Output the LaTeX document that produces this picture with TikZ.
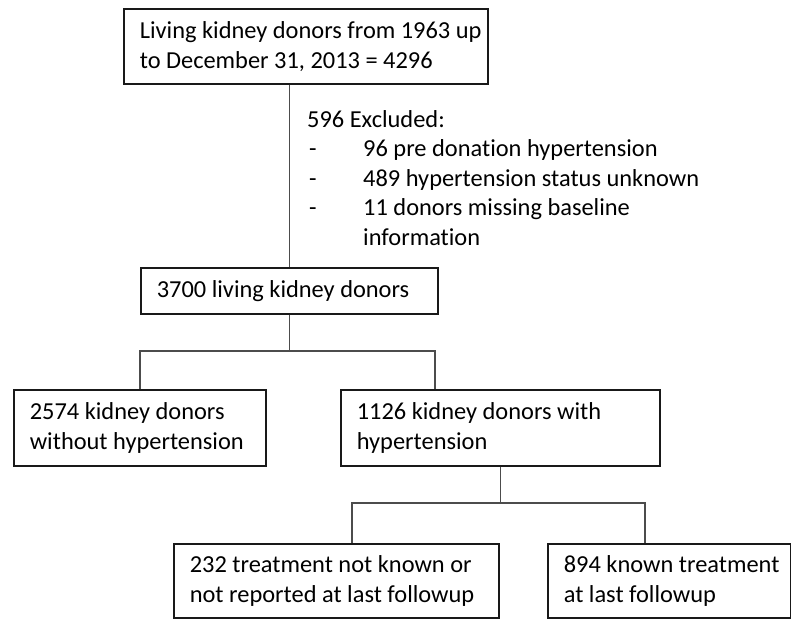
\documentclass[tikz,border=0pt]{standalone}
\usepackage{fontspec}
\setmainfont{Carlito}[Ligatures=CommonOff]
\usepackage{tikz}

\begin{document}
\begin{tikzpicture}[x=1pt,y=1pt,
  box/.style={draw=black!90,line width=1.6pt,anchor=north west,inner xsep=16pt,inner ysep=0pt,
              align=flush left,font=\fontsize{24.4}{30}\selectfont},
  link/.style={draw=black!70,line width=1.1pt}]
\useasboundingbox (0,0) rectangle (791,-619);
\node[box,text width=332pt,minimum height=75pt] (donors) at (123,-8)
  {\mbox{Living kidney donors from 1963 up}\\to December 31, 2013 = 4296};
\node[anchor=west,align=flush left,inner sep=0pt,font=\fontsize{24.4}{29.4}\selectfont] (excl) at (307,-178)
  {596 Excluded:\\
   \makebox[56pt][l]{\hspace{2pt}-}96 pre donation hypertension\\
   \makebox[56pt][l]{\hspace{2pt}-}489 hypertension status unknown\\
   \makebox[56pt][l]{\hspace{2pt}-}11 donors missing baseline\\
   \makebox[56pt][l]{}information};
\node[box,text width=265pt,minimum height=46pt] (cohort) at (140,-267) {3700 living kidney donors};
\node[box,text width=220pt,minimum height=76pt] (nohyp) at (13,-389) {2574 kidney donors\\without hypertension};
\node[box,text width=287pt,minimum height=76pt] (hyp) at (340,-389) {1126 kidney donors with\\hypertension};
\node[box,text width=293pt,minimum height=74pt] (unknown) at (173,-543) {232 treatment not known or\\not reported at last followup};
\node[box,text width=211pt,minimum height=74pt] (treated) at (547,-543) {\mbox{894 known treatment}\\at last followup};
\coordinate (splitL) at (140,-351);
\coordinate (splitR) at (435,-351);
\coordinate (splitBL) at (352,-503);
\coordinate (splitBR) at (645,-503);
\draw[link] (cohort.north |- donors.south) -- (cohort.north);
\draw[link] (cohort.south) -- (cohort.south |- splitL);
\draw[link] (nohyp.north -| splitL) -- (splitL) -- (splitR) -- (hyp.north -| splitR);
\draw[link] (hyp.south) -- (hyp.south |- splitBL);
\draw[link] (unknown.north -| splitBL) -- (splitBL) -- (splitBR) -- (treated.north -| splitBR);
\end{tikzpicture}
\end{document}
